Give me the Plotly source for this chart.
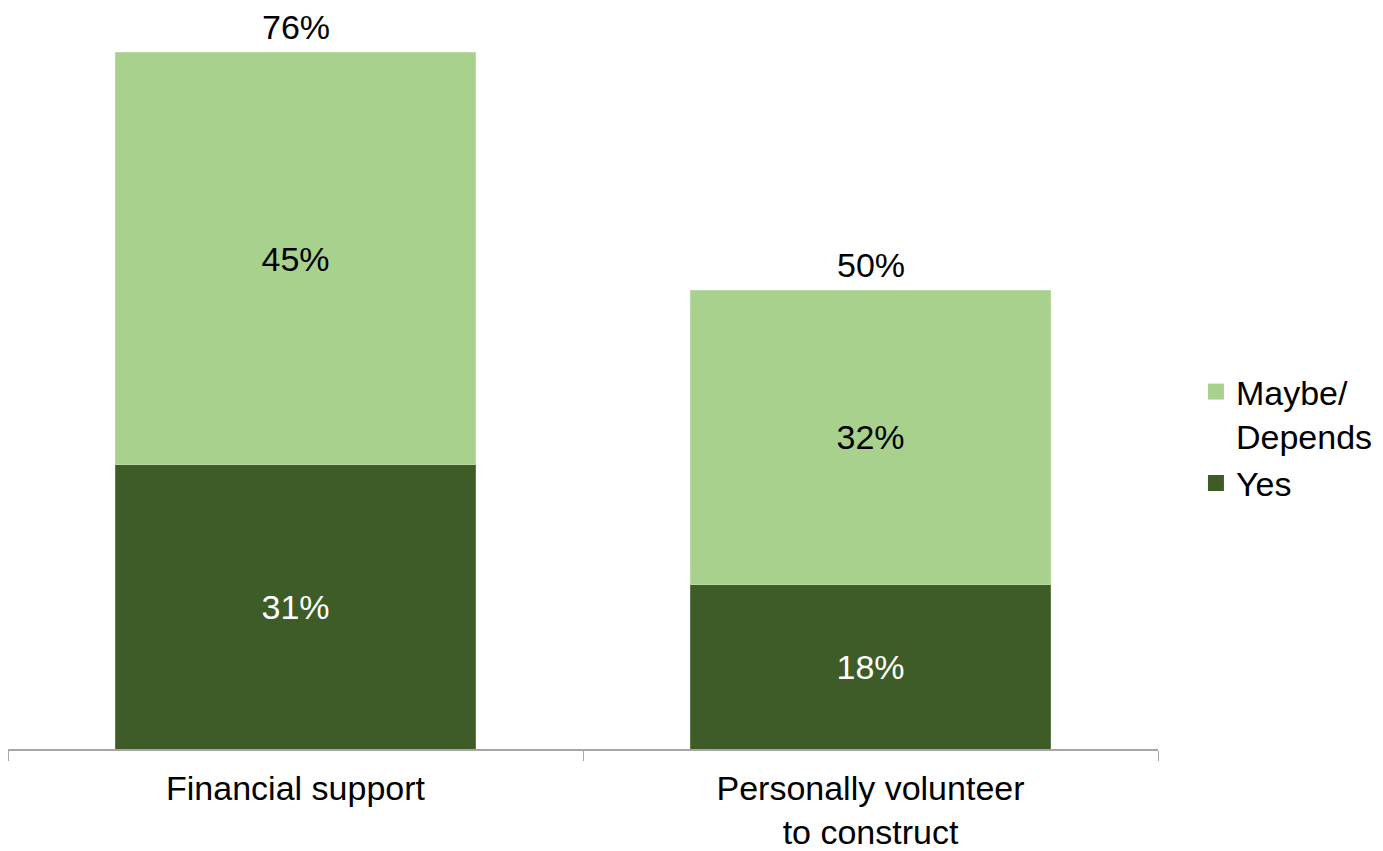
import plotly.graph_objects as go

categories = ["Financial support", "Personally volunteer<br>to construct"]
yes_values = [31, 18]
maybe_values = [45, 32]
total_values = [76, 50]

FONT = "Liberation Sans, Arial, sans-serif"
FS = 34
DARK = "#3D5C27"
LIGHT = "#A9D18E"

fig = go.Figure()
fig.add_trace(go.Bar(
    name="Yes", x=categories, y=yes_values, showlegend=False,
    marker=dict(color=DARK, line=dict(color="#5E7A4A", width=1)),
    text=[f"{v}%" for v in yes_values], textposition="inside",
    insidetextanchor="middle",
    textfont=dict(color="white", size=FS, family=FONT),
))
fig.add_trace(go.Bar(
    name="Maybe/<br>Depends", x=categories, y=maybe_values, showlegend=False,
    marker=dict(color=LIGHT, line=dict(color="#B8D9A0", width=1)),
    text=[f"{v}%" for v in maybe_values], textposition="inside",
    insidetextanchor="middle",
    textfont=dict(color="black", size=FS, family=FONT),
))
# legend entries (square swatches)
fig.add_trace(go.Scatter(
    x=[None], y=[None], mode="markers", name="Yes", legendgroup="b",
    marker=dict(symbol="square", size=16, color=DARK),
))
fig.add_trace(go.Scatter(
    x=[None], y=[None], mode="markers", name="Maybe/<br>Depends", legendgroup="a",
    marker=dict(symbol="square", size=16, color=LIGHT),
))

for c, t in zip(categories, total_values):
    fig.add_annotation(
        x=c, y=t, text=f"{t}%", showarrow=False, yanchor="bottom",
        yshift=6, borderpad=0, font=dict(size=FS, family=FONT, color="black"),
    )

fig.update_layout(
    width=1383, height=851,
    barmode="stack", bargap=0.375,
    paper_bgcolor="white", plot_bgcolor="white",
    margin=dict(l=0, r=233, t=8, b=110),
    font=dict(family=FONT, size=FS, color="black"),
    legend=dict(
        x=1.033, y=0.425, xanchor="left", yanchor="middle",
        traceorder="reversed", font=dict(size=FS, family=FONT),
        itemsizing="trace", tracegroupgap=14, valign="top",
        bgcolor="rgba(0,0,0,0)",
    ),
)
fig.update_xaxes(
    showline=True, linecolor="#A6A6A6", linewidth=1.5,
    ticks="outside", tickson="boundaries", ticklen=10, tickcolor="#A6A6A6",
    tickfont=dict(size=FS, family=FONT, color="black"),
    ticklabelstandoff=8,
    showgrid=False,
)
fig.update_yaxes(range=[0, 80], visible=False, showgrid=False)

fig.write_html("out.html", config={"displayModeBar": False})
